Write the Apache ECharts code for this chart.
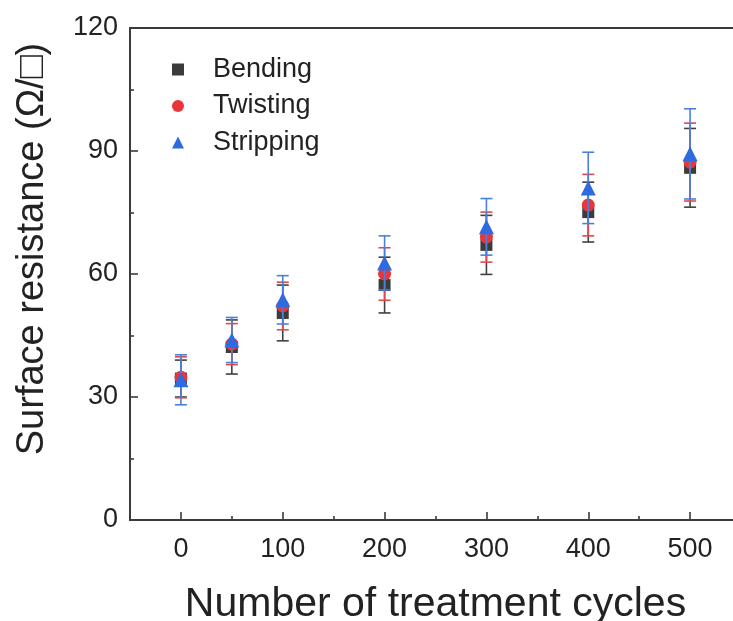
<!DOCTYPE html>
<html>
<head>
<meta charset="utf-8">
<script src="https://cdn.jsdelivr.net/npm/echarts@6/dist/echarts.min.js"></script>
<style>
html,body{margin:0;padding:0;background:#fff;}
#c{width:733px;height:621px;}
</style>
</head>
<body>
<div id="c"></div>
<script>
const cycles = [0, 50, 100, 200, 300, 400, 500];
const bendingMean = [34.5, 42.2, 50.5, 57.3, 67.1, 75.1, 85.9];
const bendingErr = [4.5, 6.6, 6.8, 6.8, 7.2, 7.3, 9.6];
const twistingMean = [34.8, 42.9, 52.2, 60.0, 69.0, 76.8, 87.3];
const twistingErr = [5.0, 5.0, 5.8, 6.4, 6.1, 7.5, 9.5];
const strippingMean = [34.2, 43.9, 53.7, 62.7, 71.5, 81.0, 89.3];
const strippingErr = [6.1, 5.5, 5.9, 6.6, 6.9, 8.7, 11.0];
const xMajorTicks = [0, 100, 200, 300, 400, 500];
const xMinorTicks = [50, 150, 250, 350, 450];
const seriesNames = ['Bending', 'Twisting', 'Stripping'];

const FONT = '"Liberation Sans", Arial, sans-serif';
const AXIS_COLOR = '#3a3a3a';

function pts(means) { return cycles.map((c, i) => [c, means[i]]); }
function errData(means, errs) { return cycles.map((c, i) => [c, means[i], errs[i]]); }

function errRender(color) {
  return function (params, api) {
    const x = api.value(0), y = api.value(1), e = api.value(2);
    const t = api.coord([x, y + e]);
    const b = api.coord([x, y - e]);
    const w = 6;
    const st = { stroke: color, lineWidth: 1.6 };
    return {
      type: 'group',
      children: [
        { type: 'line', shape: { x1: t[0], y1: t[1], x2: b[0], y2: b[1] }, style: st },
        { type: 'line', shape: { x1: t[0] - w, y1: t[1], x2: t[0] + w, y2: t[1] }, style: st },
        { type: 'line', shape: { x1: b[0] - w, y1: b[1], x2: b[0] + w, y2: b[1] }, style: st }
      ]
    };
  };
}

const colors = { Bending: '#3b3b3b', Twisting: '#e8363b', Stripping: '#2f6be0' };
const barColors = { Bending: '#404040', Twisting: '#e0484c', Stripping: '#4a80dc' };

const chart = echarts.init(document.getElementById('c'), null, { renderer: 'canvas' });
chart.setOption({
  animation: false,
  backgroundColor: '#fff',
  textStyle: { fontFamily: FONT },
  grid: {
    left: 130, top: 28, right: -8, bottom: 101,
    outerBoundsMode: 'none', containLabel: false,
    show: true, borderColor: AXIS_COLOR, borderWidth: 1.8, backgroundColor: 'transparent'
  },
  legend: {
    data: seriesNames,
    orient: 'vertical',
    left: 167, top: 51,
    itemWidth: 12, itemHeight: 12, itemGap: 9.5,
    textStyle: { fontSize: 27, color: '#222', fontFamily: FONT, lineHeight: 26, padding: [0, 0, 0, 24] }
  },
  xAxis: [{
    type: 'value', min: -50, max: 550,
    splitLine: { show: false },
    axisLine: { show: true, onZero: false, lineStyle: { color: AXIS_COLOR, width: 1.8 } },
    axisTick: { show: true, inside: true, length: 8, customValues: xMajorTicks, lineStyle: { color: AXIS_COLOR, width: 1.6 } },
    axisLabel: { customValues: xMajorTicks, fontSize: 27, color: '#222', margin: 16, fontFamily: FONT },
    name: 'Number of treatment cycles', nameLocation: 'middle', nameGap: 64,
    nameTextStyle: { fontSize: 41, color: '#222', fontFamily: FONT }
  }, {
    type: 'value', min: -50, max: 550, position: 'bottom',
    splitLine: { show: false },
    axisLine: { show: false, onZero: false },
    axisTick: { show: true, inside: true, length: 4, customValues: xMinorTicks, lineStyle: { color: AXIS_COLOR, width: 1.6 } },
    axisLabel: { show: false }
  }],
  yAxis: {
    type: 'value', min: 0, max: 120, interval: 30,
    splitLine: { show: false },
    axisLine: { show: true, onZero: false, lineStyle: { color: AXIS_COLOR, width: 1.8 } },
    axisTick: { show: true, inside: true, length: 8, lineStyle: { color: AXIS_COLOR, width: 1.6 } },
    minorTick: { show: true, splitNumber: 2, length: 4, lineStyle: { color: AXIS_COLOR, width: 1.6 } },
    axisLabel: { fontSize: 27, color: '#222', margin: 12, fontFamily: FONT },
    name: 'Surface resistance (Ω/□)', nameLocation: 'middle', nameGap: 78,
    nameTextStyle: { fontSize: 38, color: '#222', fontFamily: FONT, padding: [0, 0, 0, 50] }
  },
  series: [
    { name: 'Bending err', type: 'custom', renderItem: errRender(barColors.Bending), data: errData(bendingMean, bendingErr), encode: { x: 0, y: 1 }, z: 2 },
    { name: 'Bending', type: 'scatter', symbol: 'rect', symbolSize: 12, itemStyle: { color: colors.Bending, opacity: 1 }, data: pts(bendingMean), z: 3 },
    { name: 'Twisting err', type: 'custom', renderItem: errRender(barColors.Twisting), data: errData(twistingMean, twistingErr), encode: { x: 0, y: 1 }, z: 4 },
    { name: 'Twisting', type: 'scatter', symbol: 'circle', symbolSize: 13, itemStyle: { color: colors.Twisting, opacity: 1 }, data: pts(twistingMean), z: 5 },
    { name: 'Stripping err', type: 'custom', renderItem: errRender(barColors.Stripping), data: errData(strippingMean, strippingErr), encode: { x: 0, y: 1 }, z: 6 },
    { name: 'Stripping', type: 'scatter', symbol: 'triangle', symbolSize: 15, itemStyle: { color: colors.Stripping, opacity: 1 }, data: pts(strippingMean), z: 7 }
  ]
});
</script>
</body>
</html>
